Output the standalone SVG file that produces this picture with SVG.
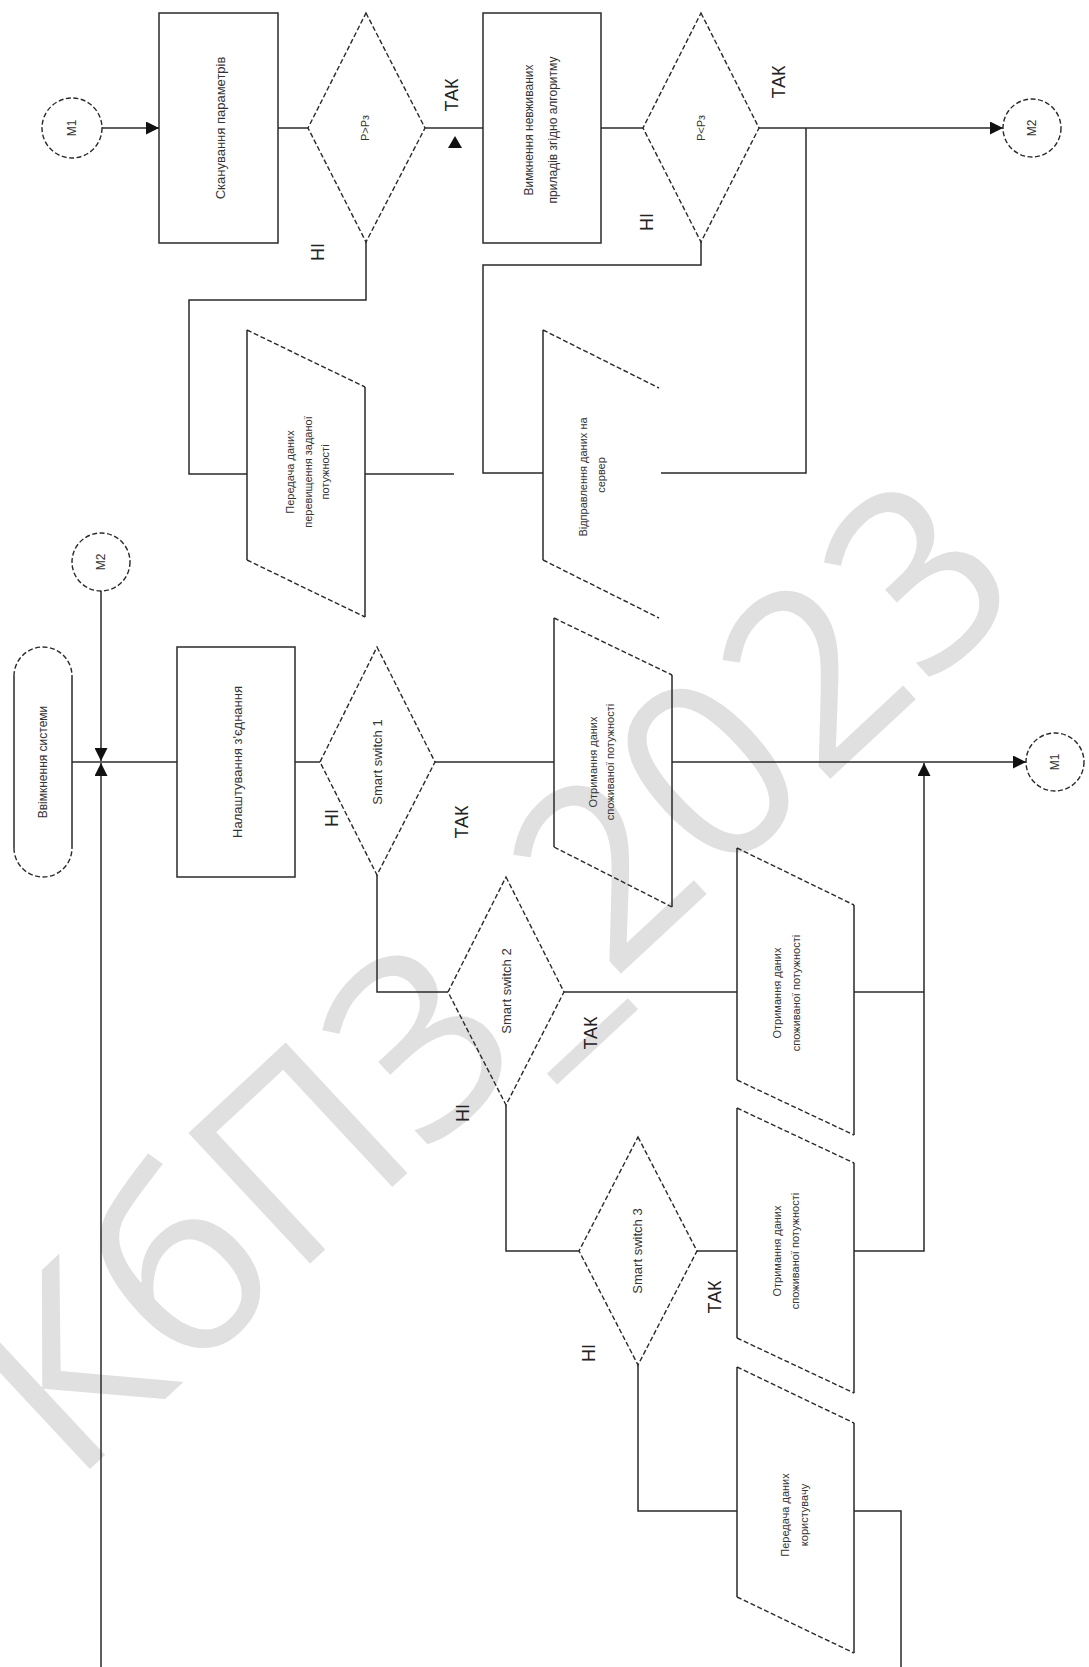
<svg xmlns="http://www.w3.org/2000/svg" width="1089" height="1667" viewBox="0 0 1089 1667">
<style>
.ln{stroke:#2a2a2a;stroke-width:1.5;fill:none}
.sd{stroke:#2a2a2a;stroke-width:1.5;fill:none}
.ds{stroke:#2a2a2a;stroke-width:1.4;fill:none;stroke-dasharray:5 2.5}
.t{font-family:"Liberation Sans",Arial,sans-serif;fill:#333;text-anchor:middle;dominant-baseline:central}
.s11{font-size:11px}.s12{font-size:12px}.s13{font-size:13px}
.lb{font-family:"Liberation Sans",Arial,sans-serif;font-size:18px;fill:#222;text-anchor:middle;dominant-baseline:central}
.wm{font-family:"Open Sans","Noto Sans",sans-serif;font-size:250px;fill:#e0e0e0;text-anchor:middle;dominant-baseline:central}
</style>
<defs>
<marker id="arr" viewBox="0 0 10 10" refX="10" refY="5" markerWidth="16" markerHeight="13" markerUnits="userSpaceOnUse" orient="auto"><path d="M0,0 L10,5 L0,10 z" fill="#111"/></marker>
</defs>
<rect width="1089" height="1667" fill="#fff"/>
<text class="wm" transform="translate(485 968) rotate(-43)">КбПЗ_2023</text>

<g id="connectors">
<path class="ln" d="M102,128 H159" marker-end="url(#arr)"/>
<path class="ln" d="M278,128 H308"/>
<path class="ln" d="M425,128 H483"/>
<polygon points="455,136 448,148 462,148" fill="#111"/>
<path class="ln" d="M366,242 V300 H189 V474 H247"/>
<path class="ln" d="M365,474 H454"/>
<path class="ln" d="M601,128 H643"/>
<path class="ln" d="M759,128 H1003" marker-end="url(#arr)"/>
<path class="ln" d="M701,242 V265 H483 V473 H543"/>
<path class="ln" d="M661,473 H806 V128"/>
<path class="ln" d="M101,591 V761" marker-end="url(#arr)"/>
<path class="ln" d="M101,1667 V763" marker-end="url(#arr)"/>
<path class="ln" d="M72,762 H177"/>
<path class="ln" d="M295,762 H320"/>
<path class="ln" d="M435,762 H554"/>
<path class="ln" d="M672,762 H1026" marker-end="url(#arr)"/>
<path class="ln" d="M377,875 V992 H448"/>
<path class="ln" d="M564,992 H737"/>
<path class="ln" d="M854,992 H924"/>
<path class="ln" d="M854,1251 H924 V763" marker-end="url(#arr)"/>
<path class="ln" d="M506,1105 V1251 H579"/>
<path class="ln" d="M697,1251 H737"/>
<path class="ln" d="M638,1365 V1511 H737"/>
<path class="ln" d="M854,1511 H901 V1667"/>
</g>

<g id="m1-top"><circle class="ds" cx="72" cy="128" r="30"/><text class="t s12" transform="translate(72 128) rotate(-90)">M1</text></g>
<g id="scan"><rect class="sd" x="159" y="13" width="119" height="230"/><text class="t s13" transform="translate(220 128) rotate(-90)">Сканування параметрів</text></g>
<g id="dec1"><path class="ds" d="M366,13 L425,128 L366,242 L308,128 Z"/><text class="t s11" transform="translate(365 128) rotate(-90)">P&gt;Pз</text></g>
<g id="off"><rect class="sd" x="483" y="13" width="118" height="230"/><text class="t s12" transform="translate(529 130) rotate(-90)">Вимкнення невживаних</text><text class="t s12" transform="translate(553 130) rotate(-90)">приладів згідно алгоритму</text></g>
<g id="dec2"><path class="ds" d="M701,13 L759,128 L701,242 L643,128 Z"/><text class="t s11" transform="translate(701 128) rotate(-90)">P&lt;Pз</text></g>
<g id="m2-right"><circle class="ds" cx="1032" cy="128" r="29"/><text class="t s12" transform="translate(1032 128) rotate(-90)">M2</text></g>
<g id="send-exceed"><path class="sd" d="M247,330 V560 M365,387 V617"/><path class="ds" d="M247,330 L365,387 M247,560 L365,617"/>
<text class="t s11" transform="translate(290 472) rotate(-90)">Передача даних</text><text class="t s11" transform="translate(308 472) rotate(-90)">перевищення заданої</text><text class="t s11" transform="translate(325 472) rotate(-90)">потужності</text></g>
<g id="send-server"><path class="sd" d="M543,330 V560"/><path class="ds" d="M543,330 L659,388 M543,560 L659,618"/>
<text class="t s11" transform="translate(583 477) rotate(-90)">Відправлення даних на</text><text class="t s11" transform="translate(601 475) rotate(-90)">сервер</text></g>
<g id="m2-left"><circle class="ds" cx="101" cy="562" r="29"/><text class="t s12" transform="translate(101 562) rotate(-90)">M2</text></g>
<g id="start"><path class="sd" d="M14,676 V848 M72,676 V848"/><path class="ds" d="M14,676 A29,29 0 0 1 72,676 M14,848 A29,29 0 0 0 72,848"/><text class="t s12" transform="translate(43 762) rotate(-90)">Ввімкнення системи</text></g>
<g id="setup"><rect class="sd" x="177" y="647" width="118" height="230"/><text class="t s13" transform="translate(237 762) rotate(-90)">Налаштування з'єднання</text></g>
<g id="sw1"><path class="ds" d="M377,647 L435,762 L377,875 L320,762 Z"/><text class="t s13" transform="translate(377 762) rotate(-90)">Smart switch 1</text></g>
<g id="get1"><path class="sd" d="M554,618 V847 M672,675 V907"/><path class="ds" d="M554,618 L672,675 M554,847 L672,907"/>
<text class="t s11" transform="translate(593 762) rotate(-90)">Отримання даних</text><text class="t s11" transform="translate(610 762) rotate(-90)">споживаної потужності</text></g>
<g id="m1-right"><circle class="ds" cx="1055" cy="762" r="29"/><text class="t s12" transform="translate(1055 762) rotate(-90)">M1</text></g>
<g id="sw2"><path class="ds" d="M506,877 L564,992 L506,1105 L448,992 Z"/><text class="t s13" transform="translate(506 991) rotate(-90)">Smart switch 2</text></g>
<g id="get2"><path class="sd" d="M737,848 V1080 M854,905 V1135"/><path class="ds" d="M737,848 L854,905 M737,1080 L854,1135"/>
<text class="t s11" transform="translate(777 993) rotate(-90)">Отримання даних</text><text class="t s11" transform="translate(796 993) rotate(-90)">споживаної потужності</text></g>
<g id="sw3"><path class="ds" d="M638,1137 L697,1251 L638,1365 L579,1251 Z"/><text class="t s13" transform="translate(637 1251) rotate(-90)">Smart switch 3</text></g>
<g id="get3"><path class="sd" d="M737,1108 V1338 M854,1163 V1393"/><path class="ds" d="M737,1108 L854,1163 M737,1338 L854,1393"/>
<text class="t s11" transform="translate(777 1251) rotate(-90)">Отримання даних</text><text class="t s11" transform="translate(795 1251) rotate(-90)">споживаної потужності</text></g>
<g id="send-user"><path class="sd" d="M737,1367 V1597 M854,1423 V1653"/><path class="ds" d="M737,1367 L854,1423 M737,1597 L854,1653"/>
<text class="t s11" transform="translate(785 1515) rotate(-90)">Передача даних</text><text class="t s11" transform="translate(804 1515) rotate(-90)">користувачу</text></g>

<g id="labels">
<text class="lb" transform="translate(452 95) rotate(-90)">ТАК</text>
<text class="lb" transform="translate(318 252) rotate(-90)">НІ</text>
<text class="lb" transform="translate(779 82) rotate(-90)">ТАК</text>
<text class="lb" transform="translate(647 222) rotate(-90)">НІ</text>
<text class="lb" transform="translate(462 822) rotate(-90)">ТАК</text>
<text class="lb" transform="translate(332 818) rotate(-90)">НІ</text>
<text class="lb" transform="translate(591 1033) rotate(-90)">ТАК</text>
<text class="lb" transform="translate(463 1113) rotate(-90)">НІ</text>
<text class="lb" transform="translate(715 1297) rotate(-90)">ТАК</text>
<text class="lb" transform="translate(589 1353) rotate(-90)">НІ</text>
</g>
</svg>
